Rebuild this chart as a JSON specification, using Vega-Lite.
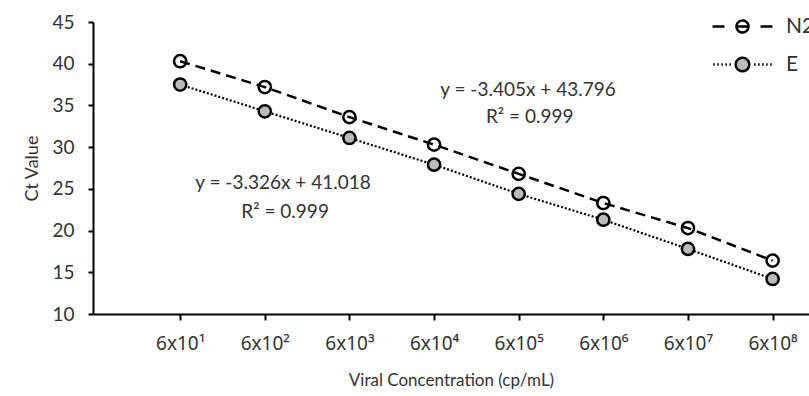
{
  "$schema": "https://vega.github.io/schema/vega-lite/v6.json",
  "width": 716,
  "height": 292,
  "autosize": {"type": "none"},
  "padding": {"left": 93, "top": 22, "right": 0, "bottom": 82},
  "background": "white",
  "config": {
    "view": {"stroke": null},
    "font": "Lato",
    "axis": {"grid": false, "domainColor": "#000", "domainWidth": 2, "tickColor": "#000", "tickWidth": 2, "labelColor": "#333", "titleColor": "#333", "labelFont": "Lato", "titleFont": "Lato", "titleFontWeight": "normal"}
  },
  "datasets": {
    "pts": [
      {"dose": 1, "series": "N2", "ct": 40.3},
      {"dose": 2, "series": "N2", "ct": 37.2},
      {"dose": 3, "series": "N2", "ct": 33.6},
      {"dose": 4, "series": "N2", "ct": 30.3},
      {"dose": 5, "series": "N2", "ct": 26.8},
      {"dose": 6, "series": "N2", "ct": 23.3},
      {"dose": 7, "series": "N2", "ct": 20.3},
      {"dose": 8, "series": "N2", "ct": 16.4},
      {"dose": 1, "series": "E", "ct": 37.5},
      {"dose": 2, "series": "E", "ct": 34.3},
      {"dose": 3, "series": "E", "ct": 31.1},
      {"dose": 4, "series": "E", "ct": 27.9},
      {"dose": 5, "series": "E", "ct": 24.4},
      {"dose": 6, "series": "E", "ct": 21.3},
      {"dose": 7, "series": "E", "ct": 17.8},
      {"dose": 8, "series": "E", "ct": 14.2}
    ],
    "notes": [
      {"dose": 5.11, "ct": 36.85, "text": "y = -3.405x + 43.796"},
      {"dose": 5.13, "ct": 33.6, "text": "R² = 0.999"},
      {"dose": 2.215, "ct": 25.7, "text": "y = -3.326x + 41.018"},
      {"dose": 2.24, "ct": 22.2, "text": "R² = 0.999"}
    ]
  },
  "layer": [
    {
      "data": {"name": "pts"},
      "transform": [{"filter": "datum.series === 'N2'"}],
      "mark": {"type": "line", "color": "#000", "strokeWidth": 2.5, "strokeDash": [10, 6]},
      "encoding": {
        "x": {"field": "dose", "type": "quantitative", "scale": {"domain": [-0.03, 8.43], "nice": false, "zero": false},
          "axis": {"values": [1,2,3,4,5,6,7,8], "labelExpr": "'6x10' + ['¹','²','³','⁴','⁵','⁶','⁷','⁸'][datum.value - 1]", "labelFont": "Noto Sans", "labelFontSize": 19, "tickSize": 6, "labelPadding": 14, "title": "Viral Concentration (cp/mL)", "titleFontSize": 17, "titlePadding": 19}},
        "y": {"field": "ct", "type": "quantitative", "scale": {"domain": [10, 45], "nice": false, "zero": false},
          "axis": {"values": [10,15,20,25,30,35,40,45], "labelFontSize": 19, "tickSize": 5, "labelPadding": 14, "title": "Ct Value", "titleFontSize": 18, "titlePadding": 10}}
      }
    },
    {
      "data": {"name": "pts"},
      "transform": [{"filter": "datum.series === 'E'"}],
      "mark": {"type": "line", "color": "#000", "strokeWidth": 2.2, "strokeDash": [2, 2]},
      "encoding": {
        "x": {"field": "dose", "type": "quantitative"},
        "y": {"field": "ct", "type": "quantitative"}
      }
    },
    {
      "data": {"name": "pts"},
      "transform": [{"filter": "datum.series === 'N2'"}],
      "mark": {"type": "point", "shape": "circle", "filled": true, "fill": "transparent", "size": 150, "stroke": "#000", "strokeWidth": 2.5, "opacity": 1},
      "encoding": {
        "x": {"field": "dose", "type": "quantitative"},
        "y": {"field": "ct", "type": "quantitative"}
      }
    },
    {
      "data": {"name": "pts"},
      "transform": [{"filter": "datum.series === 'E'"}],
      "mark": {"type": "point", "shape": "circle", "filled": true, "fill": "#bbb", "size": 150, "stroke": "#000", "strokeWidth": 2.5, "opacity": 1},
      "encoding": {
        "x": {"field": "dose", "type": "quantitative"},
        "y": {"field": "ct", "type": "quantitative"}
      }
    },
    {
      "data": {"name": "pts"},
      "transform": [{"filter": "false"}],
      "mark": {"type": "line", "color": "#000", "strokeWidth": 2.5},
      "encoding": {
        "x": {"field": "dose", "type": "quantitative"},
        "y": {"field": "ct", "type": "quantitative"},
        "strokeDash": {"field": "series", "type": "nominal", "scale": {"domain": ["N2", "E"], "range": [[1, 0], [1, 0]]},
          "legend": {
            "orient": "none", "legendX": 633, "legendY": -12, "title": null, "padding": 0,
            "symbolSize": 900, "symbolStrokeWidth": 2.5, "symbolStrokeColor": "#000",
            "labelFontSize": 21, "labelFont": "Lato", "labelColor": "#333", "labelOffset": 27, "rowPadding": 10,
            "encode": {"symbols": {"update": {
              "shape": {"signal": "datum.value === 'E' ? 'M -1.95 0 h 0.1 M -1.68 0 h 0.1 M -1.41 0 h 0.1 M -1.14 0 h 0.1 M -0.87 0 h 0.1 M 0.77 0 h 0.1 M 1.04 0 h 0.1 M 1.31 0 h 0.1 M 1.58 0 h 0.1 M 1.85 0 h 0.1 M 0.45 0 C 0.45 0.2485 0.2485 0.45 0 0.45 C -0.2485 0.45 -0.45 0.2485 -0.45 0 C -0.45 -0.2485 -0.2485 -0.45 0 -0.45 C 0.2485 -0.45 0.45 -0.2485 0.45 0 Z' : 'M -2 0 H -1.2 M 1.2 0 H 2 M 0.4 0 C 0.4 0.2209 0.2209 0.4 0 0.4 C -0.2209 0.4 -0.4 0.2209 -0.4 0 C -0.4 -0.2209 -0.2209 -0.4 0 -0.4 C 0.2209 -0.4 0.4 -0.2209 0.4 0 Z M -0.4 0 H 0.4'"},
              "fill": {"signal": "datum.value === 'E' ? '#bbb' : 'transparent'"},
              "stroke": {"value": "#000"},
              "strokeWidth": {"value": 2.5},
              "opacity": {"value": 1}
            }}}
          }}
      }
    },
    {
      "data": {"name": "notes"},
      "mark": {"type": "text", "fontSize": 19, "font": "Lato", "color": "#333", "align": "center", "baseline": "middle"},
      "encoding": {
        "x": {"field": "dose", "type": "quantitative"},
        "y": {"field": "ct", "type": "quantitative"},
        "text": {"field": "text"}
      }
    }
  ]
}
